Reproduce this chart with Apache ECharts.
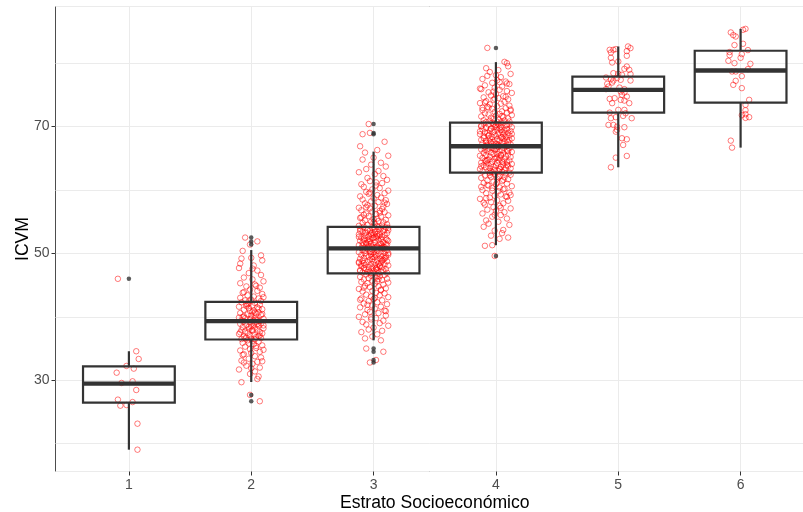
<!DOCTYPE html>
<html><head><meta charset="utf-8">
<script src="https://cdn.jsdelivr.net/npm/echarts@6/dist/echarts.min.js"></script>
<style>html,body{margin:0;padding:0;background:#fff}#c{width:803px;height:512px}</style>
</head><body><div id="c"></div><script>
const categories = [1, 2, 3, 4, 5, 6];
const boxLow    = [19.06, 29.73, 36.3, 51.3, 63.58, 66.68];
const boxQ1     = [26.48, 36.43, 46.85, 62.73, 72.2, 73.78];
const boxMedian = [29.48, 39.32, 50.8, 66.9, 75.79, 78.84];
const boxQ3     = [32.2, 42.36, 54.2, 70.63, 77.89, 81.95];
const boxHigh   = [34.58, 50.53, 66.05, 80.16, 82.63, 85.4];
const outliers  = [[1,46.0],[2,52.5],[2,51.9],[2,51.4],[2,27.7],[2,26.7],[3,70.4],[3,69.0],[3,68.8],[3,35.0],[3,34.5],[3,33.2],[3,32.8],[4,82.4],[4,49.6]];
const yTickLabels = [30, 50, 70];
const xTickLabels = [1, 2, 3, 4, 5, 6];
// jittered points: [horizontal jitter in hundredths of a category, ICVM]
const pts1 = [[-9,46.0],[6,34.58],[8,33.36],[-2,32.26],[4,31.84],[-10,31.2],[-6,29.58],[3,29.84],[6,28.47],[-9,26.95],[-7,26.0],[-2,26.1],[3,26.57],[7,23.16],[7,19.06]];
const pts2 = [[-5,52.5],[5,51.9],[-1,51.4],[-7,50.4],[8,49.7],[-8,49.2],[0,49.3],[9,48.9],[-9,48.4],[2,48.1],[-10,47.7],[5,47.3],[-2,46.9],[8,46.6],[-6,46.2],[1,45.9],[10,45.6],[-9,45.3],[3,45.1],[-4,44.8],[7,44.6],[-1,44.3],[5,44.1],[-7,43.8],[9,43.6],[-3,43.4],[2,43.2],[-9,43.0],[6,42.9],[0,42.7],[-5,42.6],[8,42.5],[-2,42.45],[4,44.9],[-6,43.9],[10,43.1],[1,47.6],
[-8,42.3],[3,42.2],[-4,42.0],[7,41.9],[1,41.8],[-10,41.6],[5,41.5],[-2,41.4],[9,41.2],[-6,41.1],[2,41.0],[-1,40.9],[6,40.7],[-9,40.6],[4,40.5],[-3,40.4],[8,40.3],[0,40.2],[-7,40.0],[3,39.9],[-5,39.8],[10,39.7],[-1,39.6],[5,39.5],[-8,39.45],[2,39.4],[7,39.35],[-4,41.7],[1,40.8],[-6,40.1],[4,39.55],[-2,42.1],[9,40.45],[-10,39.9],[6,41.3],[0,39.75],[-3,41.95],[3,40.65],
[-6,39.25],[4,39.2],[-1,39.1],[8,39.0],[-9,38.9],[2,38.8],[-4,38.7],[6,38.6],[0,38.5],[-7,38.4],[3,38.3],[10,38.2],[-2,38.1],[5,38.0],[-8,37.9],[1,37.8],[-5,37.7],[7,37.6],[-3,37.5],[9,37.4],[-10,37.3],[2,37.2],[-1,37.1],[6,37.0],[-6,36.9],[4,36.8],[-4,36.7],[8,36.65],[0,36.55],[-8,36.5],[3,36.45],[5,38.85],[-2,38.45],[1,37.95],[-9,37.55],[7,37.05],[-5,36.6],[10,38.65],
[-3,36.3],[6,36.1],[-7,35.9],[2,35.7],[9,35.5],[-5,35.3],[4,35.1],[-1,34.9],[-9,34.7],[7,34.5],[0,34.3],[-6,34.1],[3,33.8],[8,33.6],[-2,33.4],[-8,33.1],[5,32.9],[1,32.6],[-4,32.3],[7,32.0],[-10,31.7],[3,31.4],[-1,31.0],[6,30.6],[5,30.2],[-8,29.7],[-1,27.7],[7,26.7],[4,35.4],[-7,34.0],[9,33.0],[-2,35.8],[1,36.2],[-6,32.8],[10,34.8],[0,31.9]];
const pts3 = [[-4,70.4],[-9,68.8],[-3,69.0],[9,67.6],[-11,66.9],[3,66.3],[-7,65.9],[12,65.4],[0,65.1],[-9,64.8],[6,64.3],[-2,64.0],[10,63.7],[-6,63.3],[4,63.0],[-12,62.8],[1,62.5],[8,62.2],[-5,61.9],[11,61.6],[-3,61.4],[7,61.1],[-10,60.9],[2,60.7],[-8,60.5],[5,60.3],[-1,60.1],[12,59.9],[-6,59.7],[9,59.5],[-4,59.4],[3,59.2],[-11,59.0],[6,58.8],[0,58.7],[-9,58.5],[10,58.4],[-2,58.2],[4,58.1],[-7,57.9],[11,57.8],[-5,57.6],[1,57.5],[8,57.4],[-12,57.2],[-3,57.1],[7,57.0],[-10,56.8],[5,56.7],[-1,56.6],[9,56.5],[-6,56.3],[2,56.2],[-8,56.1],[12,56.0],[-4,55.9],[6,55.8],[-11,55.6],[3,55.5],[0,55.4],[10,55.3],[-7,55.2],[4,55.1],[-2,55.0],[8,54.9],[-9,54.8],[1,54.7],[11,54.6],[-5,54.5],[7,54.4],[-12,54.35],[2,61.2],[-3,59.6],[9,58.0],[-6,57.3],[5,56.4],[-10,55.7],[0,54.9],
[3,54.25],[-8,54.2],[10,54.1],[-1,54.0],[6,53.95],[-11,53.9],[4,53.8],[-5,53.7],[12,53.65],[-3,53.6],[8,53.5],[-9,53.45],[1,53.4],[-6,53.3],[11,53.2],[-2,53.15],[5,53.1],[-12,53.0],[0,52.95],[9,52.9],[-7,52.8],[3,52.75],[-4,52.7],[7,52.6],[-10,52.55],[2,52.5],[-1,52.4],[10,52.35],[-8,52.3],[6,52.2],[-5,52.15],[4,52.1],[-11,52.0],[12,51.95],[-3,51.9],[1,51.8],[8,51.75],[-9,51.7],[5,51.6],[-2,51.55],[-6,51.5],[11,51.4],[0,51.35],[-12,51.3],[7,51.2],[-4,51.15],[3,51.1],[9,51.0],[-7,50.95],[2,50.9],[-10,50.85],[6,50.82],[-1,53.35],[4,52.65],[-8,52.05],[10,51.45],[-5,50.95],[1,53.85],[-3,52.25],[8,51.05],[-11,53.55],[5,52.85],[-6,51.65],[12,54.05],[0,52.45],[-9,51.25],[3,53.05],[7,50.88],[-2,52.95],[9,53.75],[-4,51.85],[-12,52.6],[6,51.5],[1,50.9],[-7,53.25],[11,52.15],[-1,51.0],[4,54.15],
[-5,50.75],[8,50.7],[-1,50.6],[11,50.55],[-9,50.5],[3,50.4],[-3,50.35],[6,50.3],[-12,50.2],[0,50.15],[9,50.1],[-7,50.0],[4,49.95],[-2,49.9],[12,49.8],[-10,49.75],[2,49.7],[-6,49.6],[7,49.55],[-4,49.5],[1,49.4],[10,49.35],[-8,49.3],[5,49.2],[-11,49.15],[-1,49.1],[8,49.0],[-3,48.95],[3,48.9],[-9,48.8],[11,48.75],[0,48.7],[-5,48.6],[6,48.55],[-12,48.5],[4,48.4],[-2,48.35],[9,48.3],[-7,48.2],[1,48.15],[12,48.1],[-10,48.0],[5,47.95],[-4,47.9],[7,47.8],[-1,47.75],[-8,47.7],[2,47.6],[10,47.55],[-6,47.5],[3,47.4],[-11,47.35],[8,47.3],[0,47.2],[-3,47.15],[6,47.1],[-9,47.0],[11,46.95],[-2,46.9],[4,46.87],[-7,50.45],[1,49.85],[9,49.25],[-12,48.65],[5,48.05],[-4,47.45],[12,50.05],[-1,49.45],[7,48.85],[-10,48.25],[2,47.65],[-5,47.05],[10,49.65],[-8,48.45],[3,47.85],[-2,50.25],[6,49.05],[-11,47.25],
[0,46.8],[-6,46.7],[9,46.6],[-2,46.5],[5,46.4],[-11,46.3],[2,46.2],[-4,46.1],[11,46.0],[-8,45.9],[7,45.8],[-1,45.7],[3,45.6],[-10,45.5],[12,45.4],[-5,45.3],[1,45.2],[8,45.1],[-7,44.9],[4,44.8],[-3,44.7],[10,44.5],[-12,44.4],[6,44.3],[-1,44.1],[-9,44.0],[2,43.8],[9,43.7],[-6,43.5],[5,43.4],[-2,43.2],[12,43.1],[-10,42.9],[0,42.8],[7,42.6],[-4,42.5],[3,42.3],[-8,42.1],[11,42.0],[-1,41.8],[6,41.6],[-11,41.5],[1,41.3],[-5,41.1],[9,41.0],[-3,40.8],[4,40.6],[-7,40.4],[10,40.2],[-12,40.0],[2,39.8],[-2,39.6],[8,39.4],[-9,39.2],[5,39.0],[-6,38.8],[12,38.6],[0,38.3],[-4,38.0],[7,37.8],[-10,37.6],[3,37.25],[-1,36.9],[-7,36.6],[6,36.3],[-6,35.0],[8,34.5],[2,33.2],[-3,32.8],[4,45.95],[-8,44.6],[1,43.0],[-5,41.9],[10,40.9],[-2,39.9],[6,44.2],[-11,42.7],[3,46.45]];
const pts4 = [[-7,82.4],[7,80.2],[9,80.0],[10,79.5],[-8,79.2],[2,78.9],[-5,78.6],[12,78.3],[-7,78.0],[4,77.8],[-11,77.5],[1,77.3],[8,77.1],[-3,76.9],[11,76.7],[-9,76.5],[5,76.3],[-1,76.1],[-12,75.9],[3,75.8],[9,75.6],[-6,75.4],[13,75.3],[0,75.1],[-4,74.9],[6,74.8],[-10,74.6],[2,74.5],[10,74.3],[-2,74.2],[-8,74.0],[7,73.9],[-13,73.7],[4,73.6],[-5,73.5],[11,73.3],[1,73.2],[-7,73.1],[8,72.9],[-3,72.8],[12,72.7],[-11,72.6],[5,72.4],[-1,72.3],[9,72.2],[-9,72.1],[3,72.0],[-6,71.9],[13,71.8],[0,71.7],[-12,71.6],[6,71.5],[-4,71.4],[10,71.3],[-2,71.2],[2,71.1],[-10,71.0],[7,70.95],[-5,70.9],[11,70.8],[1,70.75],[-8,70.7],[4,70.65],[-13,76.0],[8,74.7],[-6,73.0],[3,77.0],[-2,75.5],[12,72.5],[-9,73.8],[5,71.65],[-1,74.4],[9,76.8],[-11,72.95],[0,78.1],
[-3,70.6],[6,70.55],[-10,70.5],[2,70.4],[11,70.35],[-6,70.3],[0,70.2],[8,70.15],[-12,70.1],[4,70.0],[-1,69.95],[13,69.9],[-8,69.8],[3,69.75],[-4,69.7],[9,69.6],[-11,69.55],[1,69.5],[7,69.4],[-5,69.35],[12,69.3],[-2,69.2],[5,69.15],[-9,69.1],[10,69.0],[-7,68.95],[2,68.9],[-13,68.8],[6,68.75],[-1,68.7],[11,68.6],[-6,68.55],[0,68.5],[8,68.4],[-3,68.35],[4,68.3],[-10,68.2],[13,68.15],[-5,68.1],[1,68.0],[9,67.95],[-12,67.9],[3,67.8],[-8,67.75],[7,67.7],[-2,67.6],[10,67.55],[-4,67.5],[5,67.4],[-11,67.35],[0,67.3],[12,67.2],[-7,67.15],[2,67.1],[-1,67.0],[8,66.95],[-9,66.92],[4,69.45],[-6,68.65],[11,67.85],[-13,69.25],[6,68.05],[-3,67.25],[9,70.25],[-10,68.45],[1,69.85],[-5,67.65],[13,68.85],[-2,70.45],[7,69.05],[-8,67.45],[3,66.98],[-12,70.05],[5,68.25],[-4,69.65],
[2,66.85],[-9,66.8],[7,66.7],[-3,66.65],[11,66.6],[-6,66.5],[0,66.45],[-12,66.4],[5,66.3],[-1,66.25],[9,66.2],[-7,66.1],[3,66.05],[13,66.0],[-4,65.9],[-10,65.85],[6,65.8],[1,65.7],[-2,65.65],[10,65.6],[-8,65.5],[4,65.45],[-13,65.4],[8,65.3],[-5,65.25],[12,65.2],[0,65.1],[-11,65.05],[3,65.0],[-1,64.9],[7,64.85],[-6,64.8],[2,64.7],[11,64.65],[-9,64.6],[5,64.5],[-3,64.45],[9,64.4],[-12,64.3],[1,64.25],[-7,64.2],[13,64.1],[-4,64.05],[6,64.0],[-10,63.9],[0,63.85],[10,63.8],[-2,63.7],[4,63.65],[-8,63.6],[8,63.5],[-5,63.45],[12,63.4],[-13,63.3],[3,63.25],[-1,63.2],[7,63.1],[-6,63.05],[2,63.0],[-11,62.9],[5,62.85],[-3,62.8],[11,62.75],[-9,66.35],[4,65.55],[-7,64.75],[9,63.95],[-2,66.55],[1,65.15],[-12,63.75],[6,64.35],[-4,62.95],[10,66.15],[-8,64.55],[3,63.35],
[-5,62.7],[8,62.6],[-1,62.5],[12,62.4],[-9,62.3],[3,62.2],[-4,62.1],[7,62.0],[-12,61.9],[1,61.8],[10,61.7],[-7,61.5],[5,61.4],[-2,61.3],[-10,61.1],[9,61.0],[0,60.9],[-6,60.7],[13,60.6],[3,60.4],[-3,60.3],[6,60.1],[-11,60.0],[2,59.8],[11,59.6],[-8,59.5],[4,59.3],[-1,59.1],[8,59.0],[-5,58.8],[-13,58.6],[1,58.4],[10,58.3],[-4,58.1],[6,57.9],[-9,57.7],[3,57.5],[-2,57.3],[12,57.1],[-7,56.9],[0,56.7],[7,56.5],[-11,56.3],[4,56.05],[-3,55.8],[9,55.5],[-8,55.2],[2,55.0],[-6,54.7],[11,54.5],[-10,54.2],[6,53.7],[-1,53.6],[5,53.2],[-4,52.8],[10,52.5],[3,52.3],[-9,51.2],[-3,51.3],[-1,49.6],[-12,60.5],[6,61.6],[-3,59.9],[9,58.9],[-7,60.8],[1,61.2],[12,59.2],[-10,58.0],[4,57.2],[-5,62.35],[7,60.2],[-1,56.1],[2,62.05],[-8,58.7]];
const pts5 = [[-7,82.1],[-4,82.1],[-2,82.21],[8,82.63],[10,82.37],[7,81.9],[-6,81.68],[7,81.16],[-6,80.84],[-5,80.1],[0,80.26],[7,79.47],[5,79.1],[9,78.95],[-4,78.42],[0,78.32],[3,78.16],[10,78.27],[-10,77.73],[-6,77.48],[-1,77.64],[2,77.37],[-4,77.26],[10,77.26],[-9,76.74],[-5,76.94],[-8,76.31],[1,76.15],[5,75.9],[-10,75.9],[2,75.52],[5,75.36],[3,75.0],[-7,74.37],[-3,74.48],[7,74.73],[2,74.21],[-5,73.69],[9,73.69],[5,74.1],[0,72.63],[-7,72.2],[6,72.1],[5,72.63],[-6,71.32],[-2,71.48],[11,71.32],[4,71.68],[-8,70.26],[-4,70.26],[-1,69.99],[5,69.9],[-1,69.47],[-2,69.2],[3,68.16],[7,68.0],[4,67.1],[-2,65.1],[7,65.37],[-6,63.58]];
const pts6 = [[4,85.4],[2,85.26],[-8,84.84],[-6,84.42],[-4,84.2],[-5,82.85],[2,83.05],[-9,81.74],[6,82.06],[1,81.42],[-9,81.27],[0,80.84],[-10,80.37],[-5,80.0],[8,79.89],[6,79.06],[-7,78.68],[-4,78.68],[1,77.95],[-4,77.21],[-6,76.58],[1,76.06],[7,74.21],[4,73.42],[4,72.58],[4,71.95],[1,71.79],[7,71.48],[4,71.37],[-8,67.78],[-7,66.68]];

const FONT = "'Liberation Sans', Arial, sans-serif";
const allPts = [pts1, pts2, pts3, pts4, pts5, pts6];
const jitterData = [];
allPts.forEach((arr, i) => arr.forEach(p => jitterData.push([categories[i] + p[0] / 100, p[1]])));
const boxData = categories.map((c, i) => [c, boxLow[i], boxQ1[i], boxMedian[i], boxQ3[i], boxHigh[i]]);

const chart = echarts.init(document.getElementById('c'), null, {renderer: 'canvas'});
chart.setOption({
  animation: false,
  backgroundColor: '#ffffff',
  grid: {left: 55.5, right: -11, top: 6.5, bottom: 40.5, outerBoundsMode: 'none', containLabel: false, show: true, borderColor: '#4d4d4d', borderWidth: 1, backgroundColor: 'transparent'},
  xAxis: {
    type: 'value', min: 0.4, max: 6.6,
    axisLine: {show: false},
    splitLine: {show: true, lineStyle: {color: '#ebebeb', width: 1}},
    axisTick: {show: true, customValues: xTickLabels, length: 4, lineStyle: {color: '#333333'}},
    axisLabel: {customValues: xTickLabels, color: '#4d4d4d', fontSize: 14, fontFamily: FONT, margin: 7},
    name: 'Estrato Socioeconómico', nameLocation: 'middle', nameGap: 23, nameMoveOverlap: false,
    nameTextStyle: {color: '#000000', fontSize: 17.6, fontFamily: FONT}
  },
  yAxis: [{
    type: 'value', min: 15.62, max: 88.93,
    axisLine: {show: false}, axisTick: {show: false}, axisLabel: {show: false},
    splitLine: {show: true, lineStyle: {color: '#ebebeb', width: 1}}
  }, {
    type: 'value', min: 15.62, max: 88.93, position: 'left',
    axisLine: {show: false},
    splitLine: {show: false},
    axisTick: {show: true, customValues: yTickLabels, length: 4, lineStyle: {color: '#333333'}},
    axisLabel: {customValues: yTickLabels, color: '#4d4d4d', fontSize: 14, fontFamily: FONT, margin: 6},
    name: 'ICVM', nameLocation: 'middle', nameGap: 23, nameRotate: 90, nameMoveOverlap: false,
    nameTextStyle: {color: '#000000', fontSize: 17.6, fontFamily: FONT}
  }],
  series: [{
    type: 'scatter', data: jitterData, symbol: 'circle', symbolSize: 5.5, z: 2,
    itemStyle: {color: 'rgba(0,0,0,0)', borderColor: 'rgba(255,0,0,0.65)', borderWidth: 1}
  }, {
    type: 'custom', data: boxData, z: 3,
    encode: {x: 0, y: [1, 2, 3, 4, 5]},
    renderItem: function (params, api) {
      const x = api.value(0);
      const pLow = api.coord([x, api.value(1)]);
      const pQ1 = api.coord([x, api.value(2)]);
      const pMed = api.coord([x, api.value(3)]);
      const pQ3 = api.coord([x, api.value(4)]);
      const pHigh = api.coord([x, api.value(5)]);
      const half = api.size([0.75, 0])[0] / 2;
      const cx = pMed[0];
      const st = {stroke: '#333333', lineWidth: 2.2, fill: null};
      return {type: 'group', children: [
        {type: 'line', shape: {x1: cx, y1: pHigh[1], x2: cx, y2: pQ3[1]}, style: st},
        {type: 'line', shape: {x1: cx, y1: pQ1[1], x2: cx, y2: pLow[1]}, style: st},
        {type: 'rect', shape: {x: cx - half, y: pQ3[1], width: 2 * half, height: pQ1[1] - pQ3[1]}, style: st},
        {type: 'line', shape: {x1: cx - half, y1: pMed[1], x2: cx + half, y2: pMed[1]}, style: {stroke: '#333333', lineWidth: 4.4}}
      ]};
    }
  }, {
    type: 'scatter', data: outliers, symbol: 'circle', symbolSize: 4.5, z: 4,
    itemStyle: {color: '#333333'}
  }]
});
</script></body></html>
